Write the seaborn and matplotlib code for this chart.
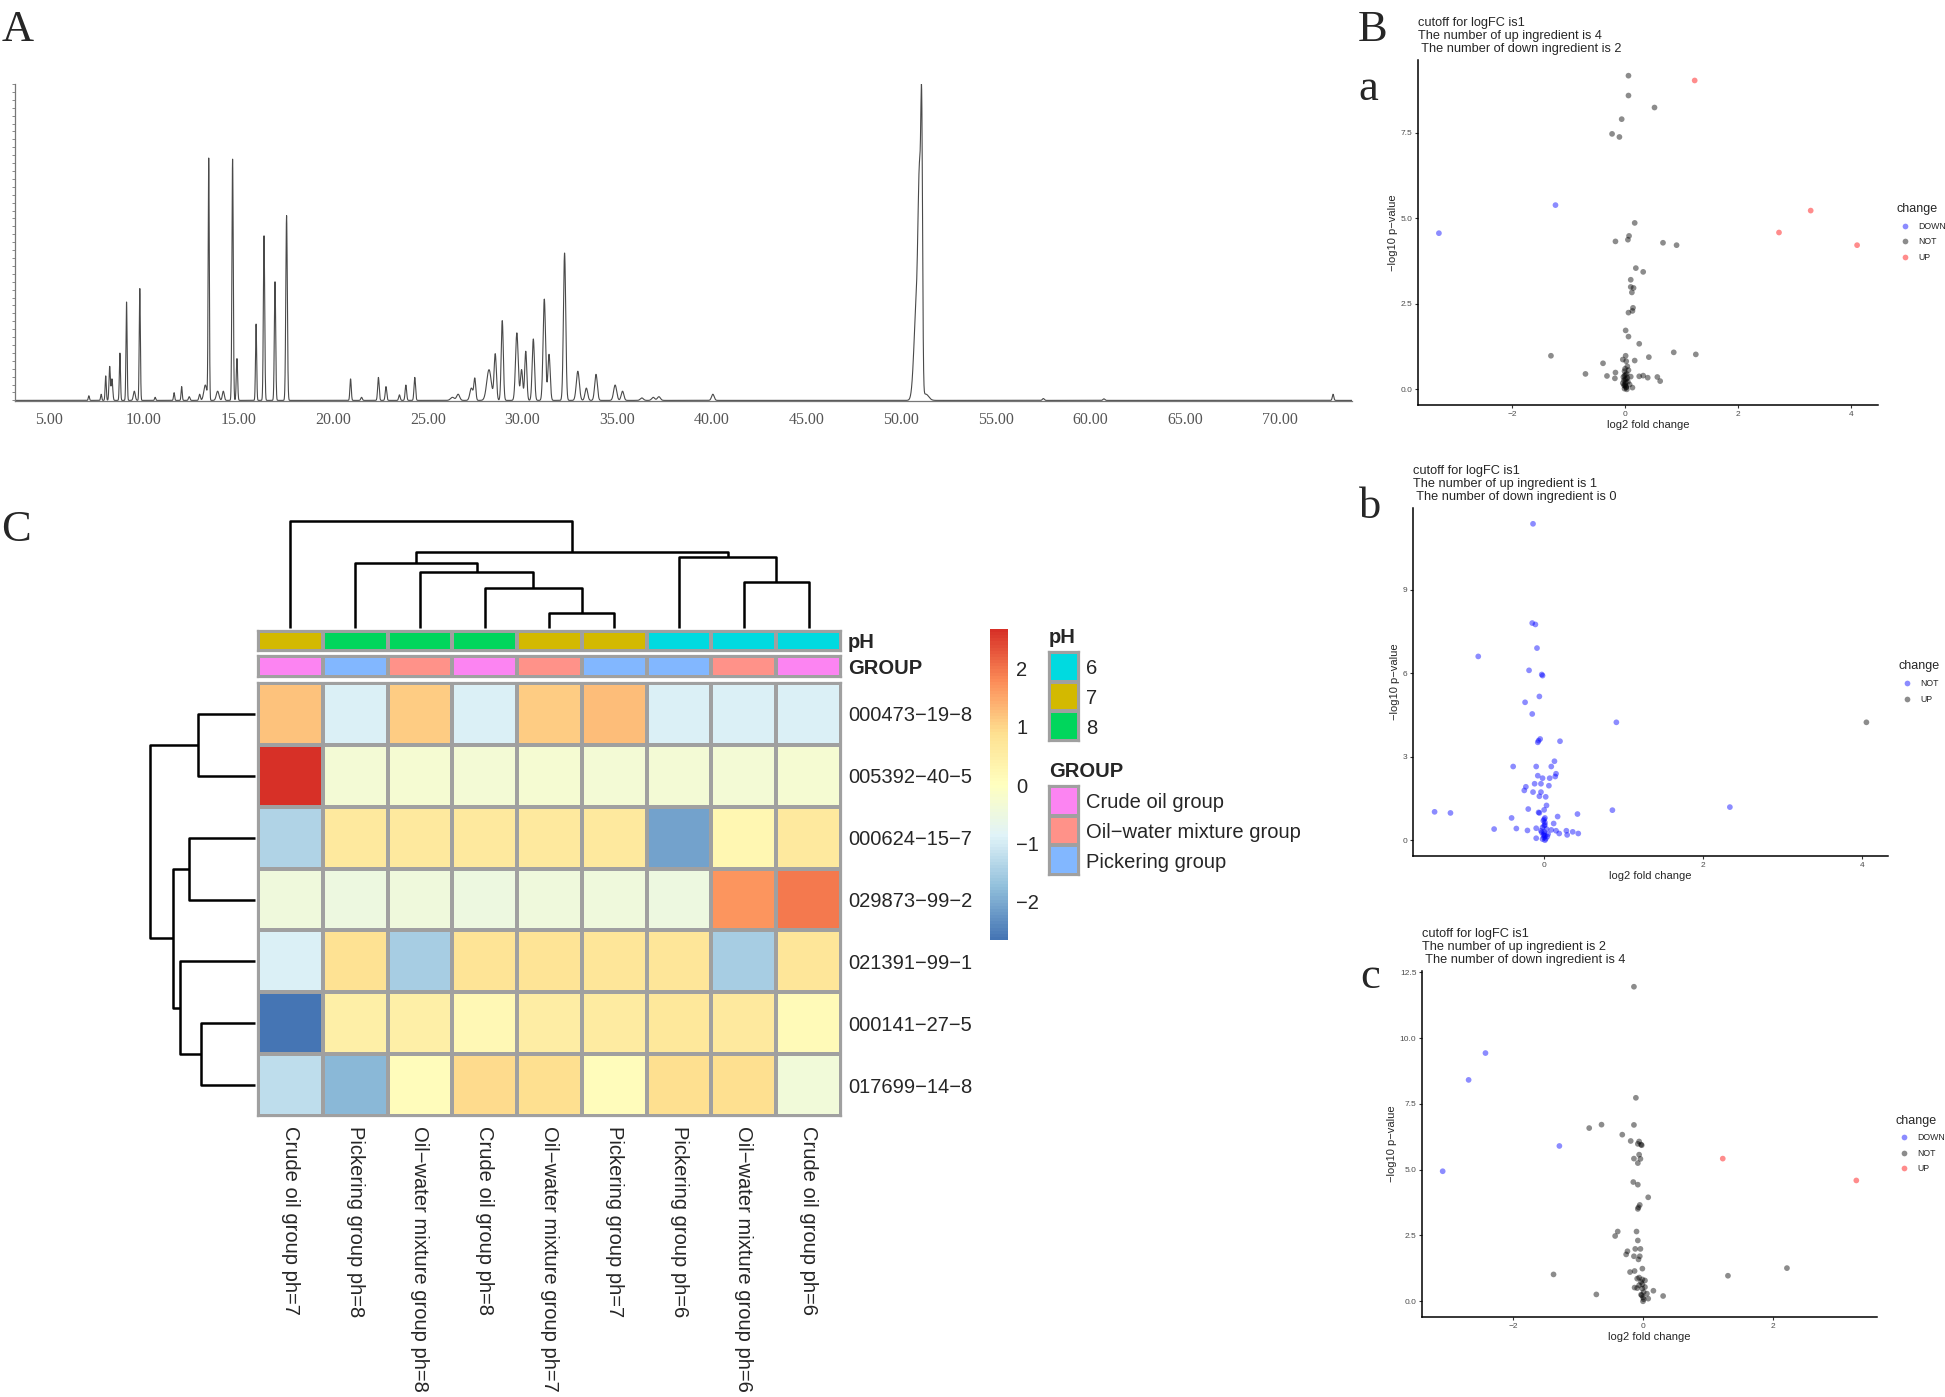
import numpy as np
import pandas as pd
import seaborn as sns
import matplotlib.pyplot as plt
from matplotlib.colors import LinearSegmentedColormap, ListedColormap

sns.set_style('white')
plt.rcParams['font.family'] = ['Liberation Sans', 'DejaVu Sans']

W, H = 1945, 1397

# ---------------- A: chromatogram peaks (min, relative height, width)
peak_rt = [7.10, 7.75, 7.99, 8.20, 8.32, 8.74, 9.09, 9.50, 9.79, 10.60, 11.60, 12.00,
           12.40, 12.95, 13.25, 13.43, 13.90, 14.20, 14.69, 14.92, 15.93, 16.35, 16.93,
           17.54, 20.92, 21.50, 22.39, 22.79, 23.50, 23.84, 24.31, 26.30, 26.60, 27.30,
           27.48, 28.23, 28.56, 28.93, 29.70, 29.95, 30.17, 30.57, 31.15, 31.40, 32.22,
           32.92, 33.37, 33.88, 34.89, 35.28, 36.30, 36.90, 37.20, 40.05, 50.80, 50.97,
           51.08, 51.30, 57.50, 60.70, 72.80]
peak_height = [0.015, 0.02, 0.08, 0.11, 0.07, 0.154, 0.321, 0.03, 0.365, 0.01, 0.025, 0.045,
               0.012, 0.02, 0.05, 0.787, 0.03, 0.03, 0.787, 0.136, 0.249, 0.537, 0.387,
               0.602, 0.07, 0.01, 0.075, 0.045, 0.018, 0.05, 0.075, 0.01, 0.02, 0.04,
               0.07, 0.10, 0.15, 0.26, 0.22, 0.10, 0.16, 0.20, 0.33, 0.15, 0.48,
               0.095, 0.04, 0.085, 0.05, 0.03, 0.008, 0.01, 0.012, 0.02, 0.30, 0.62,
               0.72, 0.02, 0.006, 0.005, 0.02]
peak_width = [0.03, 0.03, 0.03, 0.035, 0.04, 0.03, 0.03, 0.05, 0.03, 0.03, 0.03, 0.03,
              0.04, 0.04, 0.08, 0.03, 0.07, 0.05, 0.035, 0.035, 0.03, 0.035, 0.035,
              0.04, 0.035, 0.04, 0.04, 0.04, 0.04, 0.04, 0.04, 0.10, 0.08, 0.08,
              0.05, 0.12, 0.06, 0.055, 0.07, 0.06, 0.055, 0.06, 0.065, 0.06, 0.06,
              0.08, 0.07, 0.07, 0.08, 0.07, 0.08, 0.08, 0.08, 0.07, 0.13, 0.08,
              0.045, 0.15, 0.05, 0.05, 0.04]
time_ticks = [5, 10, 15, 20, 25, 30, 35, 40, 45, 50, 55, 60, 65, 70]

# ---------------- B: volcano points (log2 fold change, -log10 p)
a_down = [(-1.23, 5.38), (-3.29, 4.56)]
a_up = [(1.23, 9.02), (3.28, 5.22), (2.72, 4.58), (4.10, 4.21)]
a_not = [(0.06, 9.16), (0.06, 8.58), (0.52, 8.23), (-0.06, 7.89), (-0.23, 7.46), (-0.10, 7.37),
         (0.17, 4.86), (0.07, 4.48), (0.05, 4.37), (-0.17, 4.32), (0.67, 4.28), (0.91, 4.21),
         (0.19, 3.54), (0.32, 3.43), (0.10, 3.20), (0.10, 2.99), (0.15, 2.96), (0.12, 2.83),
         (0.14, 2.38), (0.13, 2.29), (0.06, 2.24), (0.01, 1.72), (0.06, 1.54), (0.25, 1.33),
         (-1.31, 0.98), (0.86, 1.08), (1.25, 1.02), (0.42, 0.94), (0.01, 0.98), (-0.04, 0.87),
         (0.02, 0.82), (0.17, 0.84), (-0.39, 0.76), (-0.70, 0.45), (-0.32, 0.39), (-0.17, 0.49),
         (-0.18, 0.32), (-0.01, 0.53), (0.06, 0.56), (0.01, 0.43), (-0.03, 0.36), (0.10, 0.37),
         (0.25, 0.38), (0.32, 0.40), (0.40, 0.34), (0.57, 0.36), (0.62, 0.24), (0.13, 0.05),
         (0.05, 0.22), (0.00, 0.14), (0.00, 0.10), (0.02, 0.07), (-0.01, 0.02), (0.02, 0.29),
         (0.08, 0.14), (-0.04, 0.18), (0.04, 0.67), (-0.02, 0.26), (0.03, 0.00), (0.00, 0.30),
         (0.01, 0.20), (-0.02, 0.12), (0.03, 0.45), (0.00, 0.60), (0.02, 0.05), (-0.01, 0.40),
         (0.04, 0.33)]

b_up = [(4.06, 4.24)]
b_not = [(-0.14, 11.38), (-0.15, 7.81), (-0.11, 7.76), (-0.09, 6.91), (-0.83, 6.61), (-0.19, 6.11),
         (-0.03, 5.96), (-0.02, 5.92), (-0.06, 5.17), (-0.24, 4.96), (-0.15, 4.54), (0.91, 4.24),
         (-0.05, 3.64), (-0.07, 3.58), (-0.08, 3.52), (0.20, 3.56), (0.13, 2.84), (-0.39, 2.65),
         (-0.10, 2.65), (0.09, 2.65), (0.15, 2.39), (-0.08, 2.32), (0.14, 2.29), (-0.02, 2.23),
         (0.07, 2.23), (-0.12, 2.03), (-0.04, 2.03), (-0.23, 1.92), (0.06, 1.96), (-0.25, 1.79),
         (-0.14, 1.73), (-0.04, 1.73), (-0.06, 1.58), (0.02, 1.56), (0.03, 1.25), (-0.20, 1.12),
         (0.00, 1.09), (-0.07, 1.00), (-0.06, 0.98), (-1.38, 1.02), (-1.18, 0.98), (0.86, 1.08),
         (2.34, 1.19), (0.42, 0.94), (0.17, 0.85), (-0.41, 0.80), (0.01, 0.80), (-0.01, 0.70),
         (0.12, 0.60), (-0.63, 0.40), (-0.35, 0.42), (-0.21, 0.35), (-0.10, 0.43), (0.00, 0.52),
         (-0.02, 0.46), (0.03, 0.40), (0.09, 0.37), (0.15, 0.34), (0.28, 0.34), (0.36, 0.30),
         (0.19, 0.24), (0.29, 0.19), (0.43, 0.24), (-0.10, 0.07), (-0.03, 0.28), (0.00, 0.22),
         (0.01, 0.16), (0.04, 0.13), (0.00, 0.10), (-0.02, 0.04), (0.01, 0.00), (0.05, 0.22),
         (-0.04, 0.34), (0.01, 0.64), (0.00, 0.30), (0.02, 0.05), (-0.01, 0.18), (0.01, 0.55),
         (0.00, 0.75)]

c_down = [(-2.43, 9.43), (-2.69, 8.41), (-1.29, 5.90), (-3.09, 4.94)]
c_up = [(1.23, 5.42), (3.29, 4.59)]
c_not = [(-0.14, 11.95), (-0.11, 7.73), (-0.64, 6.71), (-0.83, 6.58), (-0.14, 6.70), (-0.32, 6.33),
         (-0.19, 6.09), (-0.06, 6.07), (-0.08, 5.98), (-0.03, 5.95), (-0.02, 5.93), (-0.06, 5.57),
         (-0.14, 5.42), (-0.04, 5.41), (-0.08, 5.25), (-0.15, 4.53), (-0.08, 4.43), (0.08, 3.95),
         (-0.05, 3.66), (-0.07, 3.57), (-0.08, 3.51), (-0.39, 2.65), (-0.43, 2.48), (-0.10, 2.65),
         (-0.08, 2.31), (-0.12, 1.99), (-0.04, 1.99), (-0.24, 1.90), (-0.26, 1.78), (-0.14, 1.71),
         (-0.05, 1.71), (-0.07, 1.59), (-0.01, 1.24), (-0.20, 1.11), (-0.13, 1.15), (-1.38, 1.02),
         (2.22, 1.26), (1.31, 0.97), (-0.09, 0.86), (-0.06, 0.90), (-0.01, 0.83), (0.03, 0.79),
         (-0.03, 0.73), (-0.01, 0.64), (-0.06, 0.61), (-0.13, 0.52), (-0.09, 0.50), (-0.01, 0.48),
         (0.16, 0.40), (0.01, 0.35), (-0.72, 0.26), (0.06, 0.29), (-0.03, 0.25), (0.31, 0.20),
         (0.08, 0.10), (0.00, 0.15), (0.01, 0.08), (0.00, 0.00), (-0.02, 0.23), (0.03, 0.54)]

# ---------------- C: heatmap
samples = ['Crude oil group ph=7', 'Pickering group ph=8', 'Oil\u2212water mixture group ph=8',
           'Crude oil group ph=8', 'Oil\u2212water mixture group ph=7', 'Pickering group ph=7',
           'Pickering group ph=6', 'Oil\u2212water mixture group ph=6', 'Crude oil group ph=6']
sample_ph = ['7', '8', '8', '8', '7', '7', '6', '6', '6']
sample_group = ['Crude oil group', 'Pickering group', 'Oil\u2212water mixture group',
                'Crude oil group', 'Oil\u2212water mixture group', 'Pickering group',
                'Pickering group', 'Oil\u2212water mixture group', 'Crude oil group']
compounds = ['000473\u221219\u22128', '005392\u221240\u22125', '000624\u221215\u22127',
             '029873\u221299\u22122', '021391\u221299\u22121', '000141\u221227\u22125',
             '017699\u221214\u22128']
zscores = [
    [1.20, -0.92, 1.10, -0.92, 1.10, 1.25, -0.92, -0.92, -0.92],
    [2.68, -0.33, -0.30, -0.33, -0.31, -0.34, -0.32, -0.33, -0.31],
    [-1.38, 0.62, 0.62, 0.64, 0.65, 0.60, -2.08, 0.25, 0.64],
    [-0.45, -0.48, -0.45, -0.48, -0.46, -0.45, -0.48, 1.70, 1.97],
    [-0.95, 0.85, -1.50, 0.78, 0.78, 0.75, 0.75, -1.50, 0.75],
    [-2.66, 0.48, 0.45, 0.18, 0.50, 0.55, 0.70, 0.65, 0.15],
    [-1.22, -1.82, 0.10, 0.95, 0.90, 0.10, 0.90, 0.90, -0.40],
]
ph_levels = ['6', '7', '8']
ph_colors = ['#00DAE0', '#D3B900', '#00D65C']
group_levels = ['Crude oil group', 'Oil\u2212water mixture group', 'Pickering group']
group_colors = ['#FC84F2', '#FF9289', '#82B7FF']
# merges: (child a, child b, height) with leaves 0..n-1 and new clusters n, n+1, ...
col_merges = [(4, 5, 38), (3, 9, 100), (7, 8, 115), (2, 10, 138), (1, 12, 160),
              (6, 11, 175), (13, 14, 188), (0, 15, 265)]
row_merges = [(5, 6, 98), (0, 1, 103), (2, 3, 120), (4, 7, 136), (9, 10, 150), (8, 11, 191)]

fig = plt.figure(figsize=(W / 100, H / 100), dpi=100)


def px_axes(l, t, r, b):
    return fig.add_axes([l / W, 1 - b / H, (r - l) / W, (b - t) / H])


# ================= A
axA = px_axes(15, 84, 1352, 401)
rt = np.arange(3.0, 74.0, 0.004)
sig = np.zeros_like(rt)
for c, h, w in zip(peak_rt, peak_height, peak_width):
    sig += h * np.exp(-0.5 * ((rt - c) / w) ** 2)
chrom = pd.DataFrame({'time': rt, 'abundance': sig})
sns.lineplot(data=chrom, x='time', y='abundance', ax=axA, color='#4a4a4a',
             linewidth=0.8, estimator=None, sort=False)
axA.set_xlim(3.2, 73.8)
axA.set_ylim(-0.002, sig.max())
axA.set_xlabel('')
axA.set_ylabel('')
for s in ['top', 'right']:
    axA.spines[s].set_visible(False)
for s in ['left', 'bottom']:
    axA.spines[s].set_color('#777777')
    axA.spines[s].set_linewidth(0.9)
axA.set_xticks(time_ticks)
axA.set_xticklabels([f'{t:.2f}' for t in time_ticks], fontfamily='Liberation Serif',
                    fontsize=11.5, color='#555555')
axA.set_xticks(np.arange(4, 74, 1), minor=True)
axA.set_yticks(np.linspace(0, sig.max(), 41), minor=True)
axA.set_yticks([])
axA.tick_params(axis='x', which='major', length=5, color='#777777', direction='out', pad=3)
axA.tick_params(axis='x', which='minor', length=3, color='#777777', direction='out')
axA.tick_params(axis='y', which='minor', length=2, color='#777777', direction='out', left=True)

# ================= B
def volcano(ax, groups, palette, title, xt, yt, yfmt, legend_gap):
    frames = [pd.DataFrame(pts, columns=['log2FC', 'logP']).assign(change=name)
              for name, pts in groups]
    df = pd.concat(frames, ignore_index=True)
    sns.scatterplot(data=df, x='log2FC', y='logP', hue='change', hue_order=list(palette),
                    palette=palette, alpha=0.45, s=17, linewidth=0, ax=ax)
    ax.margins(0.05)
    sns.despine(ax=ax)
    for s in ['left', 'bottom']:
        ax.spines[s].set_linewidth(1.1)
        ax.spines[s].set_color('black')
    ax.set_xticks(xt)
    ax.set_xticklabels([str(v).replace('-', '\u2212') for v in xt])
    ax.set_yticks(yt)
    ax.set_yticklabels([yfmt.format(v) for v in yt])
    ax.tick_params(labelsize=6, labelcolor='#4d4d4d', length=2.5, color='#333333',
                   width=0.8, pad=1.5, left=True, bottom=True)
    ax.set_xlabel('log2 fold change', fontsize=8, labelpad=2)
    ax.set_ylabel('\u2212log10 p\u2212value', fontsize=8, labelpad=2)
    ax.set_title(title, loc='left', fontsize=9.2, pad=6, linespacing=1.12)
    w = ax.get_position().width * W
    sns.move_legend(ax, 'center left', bbox_to_anchor=(1 + legend_gap / w, 0.5), frameon=False,
                    title='change', fontsize=6.3, title_fontsize=9, borderpad=0,
                    handletextpad=0.5, labelspacing=0.75)
    ax.get_legend()._legend_box.align = 'left'


ttl = 'cutoff for logFC is1\nThe number of up ingredient is {}\n The number of down ingredient is {}'
pal3 = {'DOWN': 'blue', 'NOT': 'black', 'UP': 'red'}

axa = px_axes(1418, 60, 1878, 405)
volcano(axa, [('DOWN', a_down), ('NOT', a_not), ('UP', a_up)], pal3, ttl.format(4, 2),
        [-2, 0, 2, 4], [0, 2.5, 5, 7.5], '{:.1f}', 14)
axb = px_axes(1413, 508, 1888, 856)
volcano(axb, [('NOT', b_not), ('UP', b_up)], {'NOT': 'blue', 'UP': 'black'}, ttl.format(1, 0),
        [0, 2, 4], [0, 3, 6, 9], '{:d}', 6)
axc = px_axes(1422, 971, 1877, 1317)
volcano(axc, [('DOWN', c_down), ('NOT', c_not), ('UP', c_up)], pal3, ttl.format(2, 4),
        [-2, 0, 2], [0, 2.5, 5, 7.5, 10, 12.5], '{:.1f}', 14)

# ================= C
grid = '#a0a0a0'


def gray_frame(ax):
    for s in ax.spines.values():
        s.set_visible(True)
        s.set_color(grid)
        s.set_linewidth(1.6)


heat_cmap = LinearSegmentedColormap.from_list(
    'rdylbu', ['#4575B4', '#91BFDB', '#E0F3F8', '#FFFFBF', '#FEE090', '#FC8D59', '#D73027'], N=100)
hm = pd.DataFrame(zscores, index=compounds, columns=samples)
axH = px_axes(258, 683, 841, 1116)
cax = px_axes(990, 629, 1008, 940)
sns.heatmap(hm, ax=axH, cmap=heat_cmap, linewidths=1.6, linecolor=grid, cbar_ax=cax,
            cbar_kws={'ticks': [-2, -1, 0, 1, 2]})
axH.yaxis.tick_right()
axH.set_yticklabels(compounds, rotation=0, fontsize=14.5)
axH.set_xticklabels(samples, rotation=270, fontsize=14.5, ha='center', va='top')
axH.tick_params(axis='y', length=0, pad=5)
axH.tick_params(axis='x', length=0, pad=7)
axH.set_xlabel('')
axH.set_ylabel('')
gray_frame(axH)
cb = axH.collections[0].colorbar
cb.outline.set_visible(False)
cax.tick_params(length=0, labelsize=14.5, pad=6)

# annotation bars and their keys
annotations = [('pH', sample_ph, ph_levels, ph_colors, (631, 651), (652, 741)),
               ('GROUP', sample_group, group_levels, group_colors, (656, 677), (786, 875))]
for name, vals, levels, cols, (t, b), (kt, kb) in annotations:
    cmap = ListedColormap(cols)
    axn = px_axes(258, t, 841, b)
    codes = pd.DataFrame([[levels.index(v) for v in vals]], index=[name], columns=samples)
    sns.heatmap(codes, ax=axn, cmap=cmap, vmin=-0.5, vmax=len(levels) - 0.5,
                cbar=False, linewidths=1.6, linecolor=grid, xticklabels=False)
    axn.yaxis.tick_right()
    axn.set_yticklabels([name], rotation=0, fontsize=14.5, fontweight='bold')
    axn.tick_params(axis='y', length=0, pad=5)
    axn.set_xlabel('')
    axn.set_ylabel('')
    gray_frame(axn)

    axk = px_axes(1049, kt, 1079, kb)
    key = pd.DataFrame({name: range(len(levels))}, index=levels)
    sns.heatmap(key, ax=axk, cmap=cmap, vmin=-0.5, vmax=len(levels) - 0.5,
                cbar=False, linewidths=1.6, linecolor=grid, xticklabels=False)
    axk.yaxis.tick_right()
    axk.set_yticklabels(levels, rotation=0, fontsize=14.5)
    axk.tick_params(axis='y', length=0, pad=5)
    axk.set_xlabel('')
    axk.set_ylabel('')
    axk.set_title(name, loc='left', fontsize=14.5, fontweight='bold', pad=6.5)
    gray_frame(axk)


def dendrogram(ax, merges, n, horizontal):
    pos = {i: i + 0.5 for i in range(n)}
    hgt = {i: 0.0 for i in range(n)}
    for k, (a, b, h) in enumerate(merges):
        p = [pos[a], pos[a], pos[b], pos[b]]
        q = [hgt[a], h, h, hgt[b]]
        if horizontal:
            ax.plot(q, p, color='black', lw=1.8, clip_on=False, solid_capstyle='butt')
        else:
            ax.plot(p, q, color='black', lw=1.8, clip_on=False, solid_capstyle='butt')
        pos[n + k] = (pos[a] + pos[b]) / 2
        hgt[n + k] = h
    top = max(h for _, _, h in merges)
    if horizontal:
        ax.set_ylim(n, 0)
        ax.set_xlim(top, 0)
    else:
        ax.set_xlim(0, n)
        ax.set_ylim(0, top)
    ax.axis('off')


axD1 = px_axes(258, 521, 841, 628)
dendrogram(axD1, col_merges, len(samples), False)
axD2 = px_axes(150, 683, 255, 1116)
dendrogram(axD2, row_merges, len(compounds), True)

# panel letters
for letter, x, y in [('A', 2, 41), ('B', 1358, 41), ('C', 1, 541),
                     ('a', 1358, 100), ('b', 1359, 518), ('c', 1360, 988)]:
    fig.text(x / W, 1 - y / H, letter, fontfamily='Liberation Serif', fontsize=32, va='baseline')

fig.savefig('out.png', dpi=100)
